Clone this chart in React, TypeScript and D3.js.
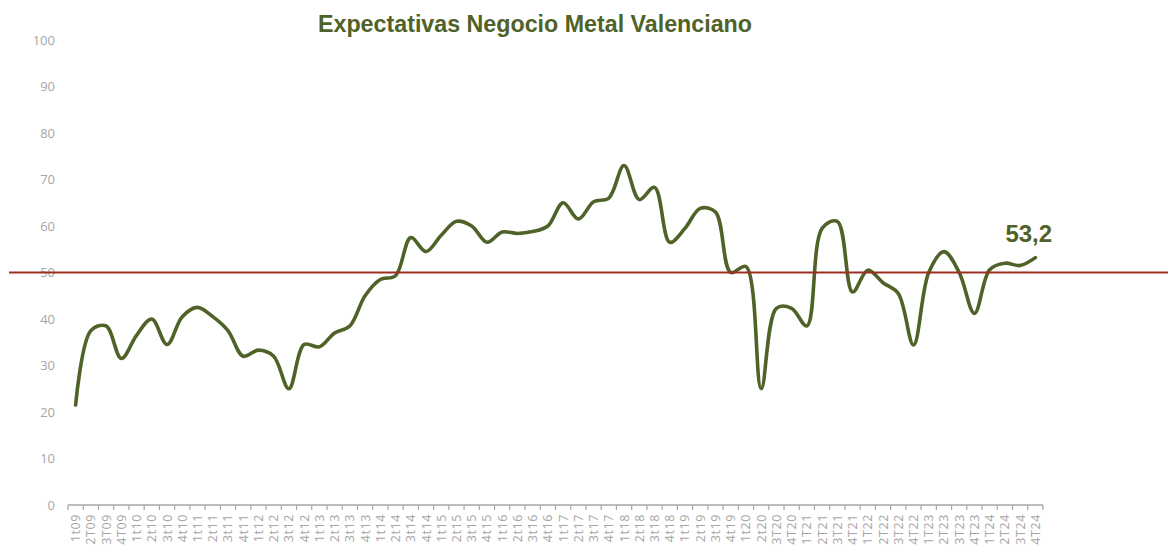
import React from "react";
import * as d3 from "d3";

const quarterLabels: string[] = [
  "1t09","2T09","3T09","4T09",
  "1t10","2t10","3t10","4t10",
  "1t11","2t11","3t11","4t11",
  "1t12","2t12","3t12","4t12",
  "1t13","2t13","3t13","4t13",
  "1t14","2t14","3t14","4t14",
  "1t15","2t15","3t15","4t15",
  "1t16","2t16","3t16","4t16",
  "1t17","2t17","3t17","4t17",
  "1t18","2t18","3t18","4t18",
  "1t19","2t19","3t19","4t19",
  "1t20","2t20","3T20","4T20",
  "1T21","2T21","3T21","4T21",
  "1T22","2T22","3T22","4T22",
  "1T23","2T23","3T23","4T23",
  "1T24","2T24","3T24","4T24",
];
const values: number[] = [
  21.5, 37.5, 38.5, 31.5,
  36.5, 40, 34.5, 40.5,
  42.5, 40.5, 37.5, 32,
  33.3, 32, 25, 34.5,
  34, 37, 38.5, 45,
  48.5, 49.3, 57.5, 54.5,
  58, 61, 60, 56.5,
  58.7, 58.4, 58.8, 60,
  65, 61.5, 65.2, 66,
  73, 65.7, 68.3, 56.5,
  59.5, 63.8, 63, 50,
  51.3, 25, 42.3, 42.3,
  38.5, 59.5, 61, 45.8,
  50.5, 47.8, 45.5, 34.4,
  50, 54.5, 50, 41.2,
  50.6, 52, 51.5, 53.2,
];
const yTicks = [0, 10, 20, 30, 40, 50, 60, 70, 80, 90, 100];
const threshold = 50;
const title = "Expectativas Negocio Metal Valenciano";
const lastLabel = "53,2";

export default function App() {
  const W = 1169, H = 554;
  const x = d3.scaleBand<string>().domain(quarterLabels).range([68, 1043]);
  const y = d3.scaleLinear().domain([0, 100]).range([505, 40]);
  const cx = (i: number) => (x(quarterLabels[i]) as number) + x.bandwidth() / 2;
  const line = d3.line<number>()
    .x((_, i) => cx(i))
    .y((d) => y(d))
    .curve(d3.curveCatmullRom.alpha(0.5));
  const path = line(values) || "";
  const gray = "#a6a6a6";
  const boundaries = quarterLabels.map((l) => x(l) as number).concat([1043]);
  const lastI = values.length - 1;
  return (
    <svg width={W} height={H} style={{ position: "absolute", left: 0, top: 0, background: "#fff" }}>
      <text x={535} y={32} textAnchor="middle" fontFamily="'Liberation Sans Narrow', 'Liberation Sans', Arial" fontWeight="bold" fontSize={23} fill="#4f6228" textLength={434} lengthAdjust="spacingAndGlyphs">{title}</text>
      {yTicks.map((t) => (
        <text key={t} x={55} y={y(t)} dy="0.35em" textAnchor="end" fontFamily="'Open Sans', 'Liberation Sans', sans-serif" fontSize={13} fill={gray}>{t}</text>
      ))}
      <line x1={boundaries[0]} x2={1043} y1={y(0)} y2={y(0)} stroke={gray} strokeWidth={1.5} />
      {boundaries.map((b, i) => (
        <line key={i} x1={b} x2={b} y1={y(0)} y2={y(0) + 5} stroke={gray} strokeWidth={1.2} />
      ))}
      {quarterLabels.map((l) => {
        const px = (x(l) as number) + x.bandwidth() / 2;
        return (
          <text key={l} transform={`translate(${px + 4.5},514) rotate(-90)`} textAnchor="end" fontFamily="'Open Sans', 'Liberation Sans', sans-serif" fontSize={12.5} letterSpacing={0.6} fill={gray}>{l}</text>
        );
      })}
      <path d={path} fill="none" stroke="#4f6228" strokeWidth={3.6} strokeLinejoin="round" strokeLinecap="round" />
      <line x1={9} x2={1168} y1={y(threshold)} y2={y(threshold)} stroke="#9b3020" strokeWidth={2} />
      <text x={cx(lastI) - 30} y={242} fontFamily="'Liberation Sans Narrow', 'Liberation Sans', Arial" fontWeight="bold" fontSize={24} fill="#4f6228">{lastLabel}</text>
    </svg>
  );
}
